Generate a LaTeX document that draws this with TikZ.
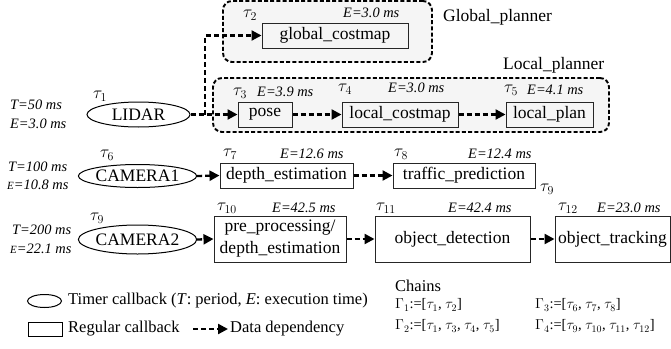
\documentclass[tikz,border=0pt]{standalone}
\usepackage{fontspec}
\setmainfont{Liberation Serif}
\usetikzlibrary{arrows.meta,shapes.geometric}
\begin{document}
\begin{tikzpicture}[x=1pt,y=-1pt,
  dep/.style={line width=2.3pt, dash pattern=on 5pt off 3pt, -{Triangle[length=10pt,width=10pt]}},
  grp/.style={draw, line width=1.9pt, dash pattern=on 4pt off 2.2pt, rounded corners=9pt, fill=gray!8},
  cb/.style={draw=black!85, line width=1pt, inner sep=0pt, font=\fontsize{17.5}{20}\selectfont},
  tmr/.style={draw, ellipse, line width=1pt, inner sep=0pt, font=\fontsize{17.5}{20}\selectfont},
  lbl/.style={font=\fontsize{14.4}{16}\selectfont\itshape, inner sep=0pt, anchor=west},
  tau/.style={font=\fontsize{18}{18}\selectfont, inner sep=0pt, anchor=west},
  txt/.style={font=\fontsize{17.5}{20}\selectfont, inner sep=0pt, anchor=west},
]
\useasboundingbox (0,0) rectangle (671,348);

% groups
\node[grp, minimum width=209pt, minimum height=61pt, inner sep=0pt] (gGlobal) at (327.5,31.5) {};
\node[grp, minimum width=396pt, minimum height=54pt, inner sep=0pt] (gLocal) at (411,105) {};
\node[txt] (tGlobal) at (443,17) {Global\_planner};
\node[txt] (tLocal) at (503,65) {Local\_planner};

% timer callbacks
\node[tmr, minimum width=103pt, minimum height=25pt] (lidar) at (138.5,114.5) {LIDAR};
\node[tmr, minimum width=103pt, minimum height=23pt] (cam1) at (137.5,176) {CAMERA1};
\node[tmr, minimum width=103pt, minimum height=29pt] (cam2) at (137.5,239.5) {CAMERA2};

% regular callbacks
\node[cb, minimum width=146pt, minimum height=25pt] (gc) at (335,35.5) {global\_costmap};
\node[cb, minimum width=54pt, minimum height=25pt] (pose) at (265,114.5) {pose};
\node[cb, minimum width=116pt, minimum height=25pt] (lc) at (400,114.5) {local\_costmap};
\node[cb, minimum width=87pt, minimum height=25pt] (lp) at (549.5,114.5) {local\_plan};
\node[cb, minimum width=133pt, minimum height=25pt] (de) at (286.5,175.5) {depth\_estimation};
\node[cb, minimum width=142pt, minimum height=25pt] (tp) at (464,175.5) {traffic\_prediction};
\node[cb, minimum width=132pt, minimum height=46pt, align=center] (pre) at (280,239) {pre\_processing/\\[2pt]depth\_estimation};
\node[cb, minimum width=155pt, minimum height=46pt] (od) at (452.5,239) {object\_detection};
\node[cb, minimum width=115pt, minimum height=46pt] (ot) at (612.5,239) {object\_tracking};

% left labels
\node[lbl] (T1) at (10,105) {T=50 ms};
\node[lbl] (E1) at (10,124) {E=3.0 ms};
\node[lbl] (T6) at (8,167) {T=100 ms};
\node[lbl] (E6) at (7,185) {{\fontsize{11}{12}\selectfont E}=10.8 ms};
\node[lbl] (T9) at (12,230) {T=200 ms};
\node[lbl] (E9) at (10,249) {{\fontsize{11}{12}\selectfont E}=22.1 ms};

% tau labels
\node[tau] (ta1) at (93,96) {$\tau_1$};
\node[tau] (ta2) at (243,15) {$\tau_2$};
\node[tau] (ta3) at (233,93) {$\tau_3$};
\node[tau] (ta4) at (338,89) {$\tau_4$};
\node[tau] (ta5) at (504,90) {$\tau_5$};
\node[tau] (ta6) at (100,155) {$\tau_6$};
\node[tau] (ta7) at (223,154) {$\tau_7$};
\node[tau] (ta8) at (394,154) {$\tau_8$};
\node[tau] (ta9s) at (540,189) {$\tau_9$};
\node[tau] (ta9) at (90,218) {$\tau_9$};
\node[tau] (ta10) at (217,208) {$\tau_{10}$};
\node[tau] (ta11) at (376,208) {$\tau_{11}$};
\node[tau] (ta12) at (558,208) {$\tau_{12}$};

% execution time labels
\node[lbl] (e2) at (343,13) {E=3.0 ms};
\node[lbl] (e3) at (257,92) {E=3.9 ms};
\node[lbl] (e4) at (388,88) {E=3.0 ms};
\node[lbl] (e5) at (527,90) {E=4.1 ms};
\node[lbl] (e7) at (280,154) {E=12.6 ms};
\node[lbl] (e8) at (468,154) {E=12.4 ms};
\node[lbl] (e10) at (272,208) {E=42.5 ms};
\node[lbl] (e11) at (448,208) {E=42.4 ms};
\node[lbl] (e12) at (597,208) {E=23.0 ms};

% data dependencies
\coordinate (j) at (205,114.5);
\draw[dep] (lidar.east) -- (pose.west);
\draw[dep] (j) |- (gc.west);
\draw[dep] (pose.east) -- (lc.west);
\draw[dep] (lc.east) -- (lp.west);
\draw[dep] (cam1.east) -- (de.west);
\draw[dep] (de.east) -- (tp.west);
\draw[dep] (cam2.east) -- (pre.west);
\draw[dep] (pre.east) -- (od.west);
\draw[dep] (od.east) -- (ot.west);

% legend
\node[draw, ellipse, line width=1pt, minimum width=34pt, minimum height=13pt, inner sep=0pt] (legT) at (44.5,301) {};
\node[txt, font=\fontsize{16.5}{18}\selectfont] (legTt) at (68,301) {Timer callback (\textit{T}: period, \textit{E}: execution time)};
\node[draw, line width=1pt, minimum width=34pt, minimum height=14pt, inner sep=0pt] (legR) at (45,329) {};
\node[txt, font=\fontsize{16.5}{18}\selectfont] (legRt) at (68,329) {Regular callback};
\coordinate (la) at (193,329);
\coordinate (lb) at (228,329);
\draw[dep] (la) -- (lb);
\node[txt, font=\fontsize{16.5}{18}\selectfont] (legDt) at (230,329) {Data dependency};

% chains
\node[txt, font=\fontsize{16.5}{18}\selectfont] (chains) at (395,286) {Chains};
\node[txt, font=\fontsize{14.5}{16}\selectfont] (g1) at (395,305) {$\Gamma_1$:=[$\tau_1$, $\tau_2$]};
\node[txt, font=\fontsize{14.5}{16}\selectfont] (g2) at (395,326) {$\Gamma_2$:=[$\tau_1$, $\tau_3$, $\tau_4$, $\tau_5$]};
\node[txt, font=\fontsize{14.5}{16}\selectfont] (g3) at (535,305) {$\Gamma_3$:=[$\tau_6$, $\tau_7$, $\tau_8$]};
\node[txt, font=\fontsize{14.5}{16}\selectfont] (g4) at (535,326) {$\Gamma_4$:=[$\tau_9$, $\tau_{10}$, $\tau_{11}$, $\tau_{12}$]};
\end{tikzpicture}
\end{document}
